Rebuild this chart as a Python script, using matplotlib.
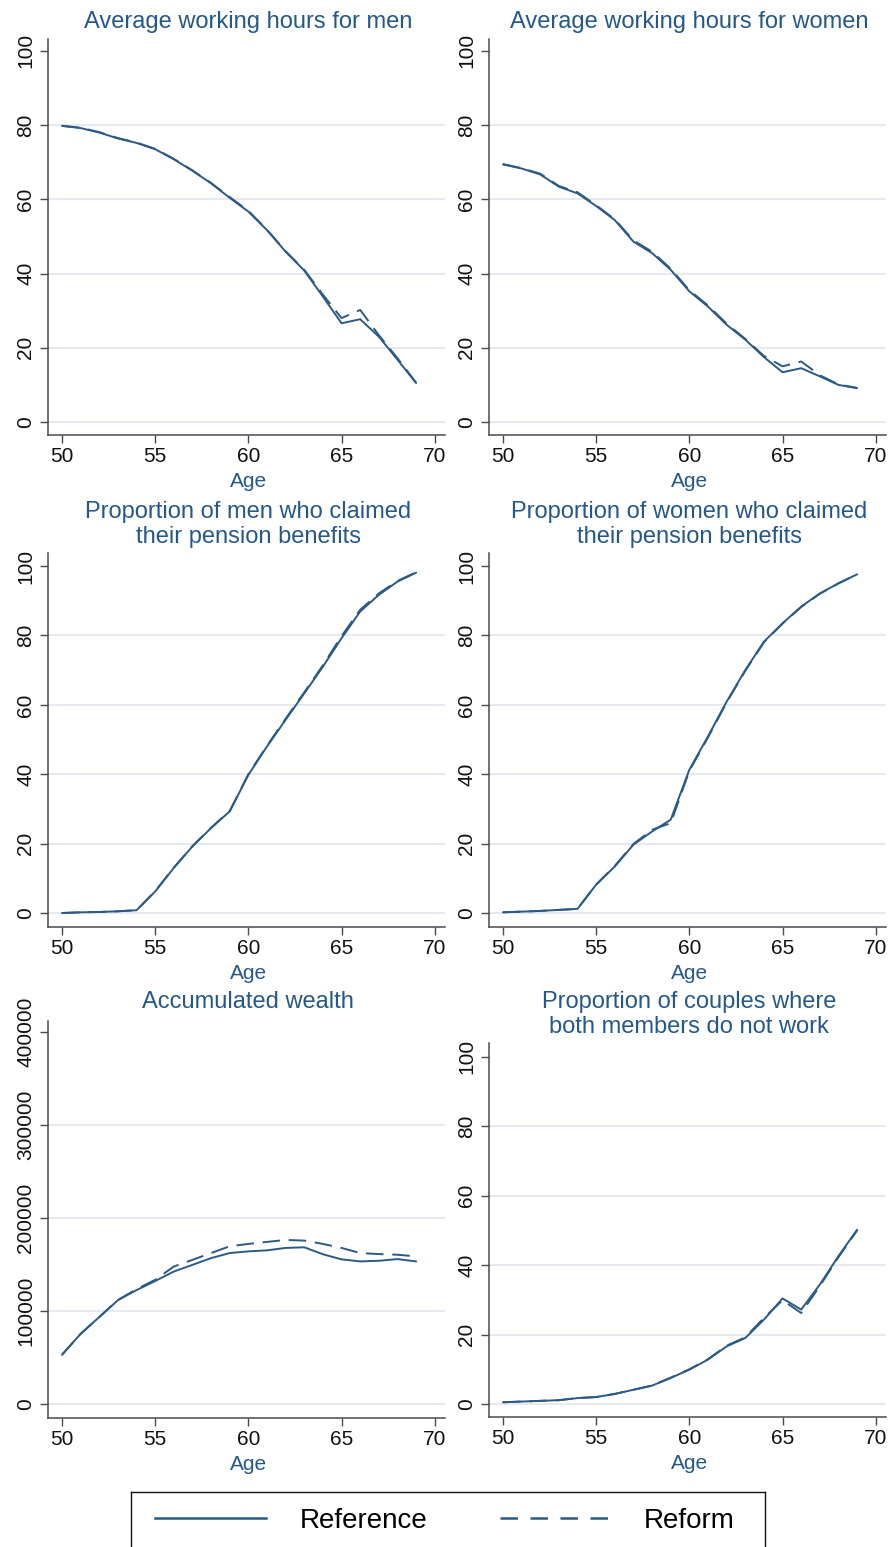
import matplotlib
matplotlib.use("Agg")
import matplotlib.pyplot as plt
from matplotlib.transforms import blended_transform_factory
from matplotlib.lines import Line2D

# ---- data ----
ages = list(range(50, 70))

men_hours_ref = [79.8, 79.2, 78.0, 76.4, 75.2, 73.5, 70.8, 67.7, 64.3, 60.4,
                 56.7, 51.7, 45.9, 40.8, 33.8, 26.6, 27.7, 23.0, 16.8, 10.5]
men_hours_reform = [79.8, 79.3, 78.1, 76.5, 75.3, 73.6, 70.9, 67.8, 64.4, 60.6,
                    56.9, 51.8, 46.0, 41.0, 34.3, 28.0, 30.2, 23.4, 17.2, 10.6]

women_hours_ref = [69.4, 68.3, 66.7, 63.4, 61.6, 58.2, 54.4, 48.6, 45.5, 41.0,
                   35.2, 31.1, 26.2, 22.2, 17.5, 13.4, 14.5, 12.3, 10.0, 9.1]
women_hours_reform = [69.5, 68.4, 66.9, 63.6, 61.9, 58.4, 54.6, 48.9, 45.9, 41.3,
                      35.5, 31.4, 26.5, 22.4, 17.8, 15.0, 16.3, 12.6, 10.1, 9.2]

men_pension_ref = [0.0, 0.2, 0.3, 0.5, 0.8, 6.2, 13.0, 19.2, 24.5, 29.3,
                   39.8, 48.0, 55.7, 63.3, 71.0, 79.2, 86.9, 91.7, 95.5, 98.1]
men_pension_reform = [0.0, 0.2, 0.3, 0.5, 0.8, 6.3, 13.1, 19.3, 24.6, 29.4,
                      40.0, 48.2, 56.0, 63.6, 71.4, 79.8, 87.4, 92.1, 95.7, 98.2]

women_pension_ref = [0.2, 0.4, 0.6, 0.9, 1.2, 8.2, 13.4, 19.7, 23.5, 26.9,
                     41.3, 50.9, 60.9, 70.0, 78.2, 83.5, 88.3, 92.1, 95.0, 97.6]
women_pension_reform = [0.2, 0.4, 0.6, 0.9, 1.2, 8.2, 13.6, 19.9, 24.0, 25.9,
                        41.0, 50.6, 60.7, 69.8, 78.0, 83.4, 88.2, 92.0, 95.0, 97.6]

wealth_ref = [52900, 75400, 93500, 111600, 122500, 132200, 142400, 149600, 156900, 162300,
              164100, 165200, 167800, 168500, 161000, 155500, 153300, 154000, 155800, 153300]
wealth_reform = [52900, 75400, 93500, 111800, 123500, 133500, 147800, 155000, 162300, 169600,
                 172100, 174300, 176400, 175700, 172100, 167800, 162300, 161200, 160500, 158700]

couples_ref = [0.5, 0.7, 0.9, 1.1, 1.7, 2.0, 2.9, 4.1, 5.3, 7.5,
               9.9, 12.8, 16.6, 19.0, 24.3, 30.4, 27.2, 34.4, 42.6, 50.2]
couples_reform = [0.5, 0.7, 0.9, 1.1, 1.7, 2.0, 2.9, 4.1, 5.3, 7.6,
                  10.0, 12.9, 16.8, 19.2, 24.8, 29.9, 26.2, 34.0, 42.3, 50.0]

titles = [
    ["Average working hours for men"],
    ["Average working hours for women"],
    ["Proportion of men who claimed", "their pension benefits"],
    ["Proportion of women who claimed", "their pension benefits"],
    ["Accumulated wealth"],
    ["Proportion of couples where", "both members do not work"],
]
series = [
    (men_hours_ref, men_hours_reform),
    (women_hours_ref, women_hours_reform),
    (men_pension_ref, men_pension_reform),
    (women_pension_ref, women_pension_reform),
    (wealth_ref, wealth_reform),
    (couples_ref, couples_reform),
]
pct_ticks = [0, 20, 40, 60, 80, 100]
wealth_ticks = [0, 100000, 200000, 300000, 400000]
x_ticks = [50, 55, 60, 65, 70]
legend_labels = ["Reference", "Reform"]

# ---- style ----
plt.rcParams["font.family"] = ["Liberation Sans", "DejaVu Sans"]
W, H = 890, 1547
LINE = "#2b5a84"
TITLE = "#25588a"
GRID = "#e6e9ef"
AXIS = "#4a4a4a"

fig = plt.figure(figsize=(W / 100, H / 100), dpi=100)
fig.patch.set_facecolor("white")

# panel boxes in pixels: left, top, right, bottom, y-limits, title baseline(s)
boxes = [
    (48, 39, 445, 435, (-3.5, 103.2), [28]),
    (489, 39, 886, 435, (-3.5, 103.2), [28]),
    (48, 553, 445, 927, (-4.03, 103.75), [518, 543]),
    (489, 553, 886, 927, (-4.03, 103.75), [518, 543]),
    (48, 1021, 445, 1418, (-15050, 411800), [1008]),
    (489, 1043, 886, 1417, (-3.75, 104.0), [1008, 1033]),
]

for i, (x0, y0, x1, y1, ylim, tys) in enumerate(boxes):
    ax = fig.add_axes([x0 / W, 1 - y1 / H, (x1 - x0) / W, (y1 - y0) / H])
    ref, reform = series[i]
    ax.plot(ages, ref, color=LINE, lw=1.4, solid_capstyle="round", zorder=3)
    ax.plot(ages, reform, color=LINE, lw=1.4, linestyle=(0, (9, 4.5)), zorder=3)
    ax.set_xlim(49.25, 70.55)
    ax.set_ylim(*ylim)
    yt = wealth_ticks if i == 4 else pct_ticks
    ax.set_yticks(yt)
    ax.set_yticklabels([str(v) for v in yt])
    ax.set_xticks(x_ticks)
    for v in yt[:-1]:
        ax.axhline(v, color=GRID, lw=1.4, zorder=1)
    for s in ("top", "right"):
        ax.spines[s].set_visible(False)
    for s in ("left", "bottom"):
        ax.spines[s].set_color(AXIS)
        ax.spines[s].set_linewidth(1.1)
    ax.tick_params(axis="both", direction="out", length=5.8, width=1.0,
                   color=AXIS, labelsize=15, labelcolor="#111111")
    ax.tick_params(axis="x", pad=3)
    ax.tick_params(axis="y", pad=3.5, labelrotation=90)
    for lab in ax.get_yticklabels():
        lab.set_va("center")
    tr = blended_transform_factory(ax.transData, fig.transFigure)
    for ty, line in zip(tys, titles[i]):
        ax.text(60, 1 - ty / H, line, transform=tr, ha="center", va="baseline",
                fontsize=17, color=TITLE)
    ax.text(60, 1 - (y1 + 52) / H, "Age", transform=tr, ha="center",
            va="baseline", fontsize=15, color=TITLE)

# ---- legend ----
lx0, ly0, lx1, ly1 = 131, 1492, 765, 1552
lax = fig.add_axes([lx0 / W, 1 - ly1 / H, (lx1 - lx0) / W, (ly1 - ly0) / H])
lax.set_xticks([])
lax.set_yticks([])
for s in lax.spines.values():
    s.set_color("#111111")
    s.set_linewidth(1.0)
handles = [Line2D([], [], color=LINE, lw=1.8),
           Line2D([], [], color=LINE, lw=1.8, linestyle=(0, (7, 5)))]
fig.legend(handles, legend_labels, loc="center",
           bbox_to_anchor=(445 / W, 1 - 1521 / H), ncol=2, frameon=False,
           fontsize=20, handlelength=4.0, handletextpad=1.2, columnspacing=2.6)

fig.savefig("out.png", dpi=100)
